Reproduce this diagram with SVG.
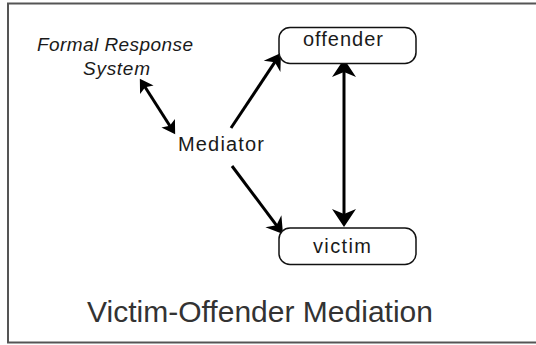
<svg xmlns="http://www.w3.org/2000/svg" width="536" height="345" viewBox="0 0 536 345">
<style>
  .lbl { font-family: "Liberation Sans", Arial, sans-serif; fill: #1a1a1a; }
  .box { fill: #ffffff; stroke: #111111; stroke-width: 1.5; }
  .conn { stroke: #000000; stroke-width: 3; fill: none; }
</style>
<defs>
  <marker id="big" markerUnits="userSpaceOnUse" markerWidth="40" markerHeight="40" viewBox="-20 -20 40 40" refX="0" refY="0" orient="auto-start-reverse">
    <path d="M10,0 L-8,-12 L-3,0 L-8,12 Z" fill="#000"/>
  </marker>
  <marker id="mid" markerUnits="userSpaceOnUse" markerWidth="40" markerHeight="40" viewBox="-20 -20 40 40" refX="0" refY="0" orient="auto-start-reverse">
    <path d="M8,0 L-8,-10 L-3,0 L-8,10 Z" fill="#000"/>
  </marker>
  <marker id="small" markerUnits="userSpaceOnUse" markerWidth="30" markerHeight="30" viewBox="-15 -15 30 30" refX="0" refY="0" orient="auto-start-reverse">
    <path d="M7,0 L-6,-8 L-3,0 L-6,8 Z" fill="#000"/>
  </marker>
</defs>
<rect x="8" y="3.5" width="540" height="339" fill="#ffffff" stroke="#555555" stroke-width="2"/>

<g id="connectors">
  <line class="conn" x1="344" y1="69" x2="344" y2="217" marker-start="url(#big)" marker-end="url(#big)"/>
  <line class="conn" x1="231" y1="128" x2="276.5" y2="59.7" marker-end="url(#mid)"/>
  <line class="conn" x1="232" y1="166" x2="278.2" y2="227.6" marker-end="url(#mid)"/>
  <line class="conn" x1="143.6" y1="84.7" x2="171.4" y2="128.3" marker-start="url(#small)" marker-end="url(#small)"/>
</g>

<g id="formal">
  <text class="lbl" x="37" y="51" font-size="19" font-style="italic" textLength="156">Formal Response</text>
  <text class="lbl" x="83" y="75" font-size="19" font-style="italic" textLength="67">System</text>
</g>

<g id="mediator">
  <text class="lbl" x="178" y="151" font-size="20" textLength="86">Mediator</text>
</g>

<g id="offender">
  <rect class="box" x="279" y="27.5" width="137" height="36" rx="11" ry="11"/>
  <text class="lbl" x="303" y="45.5" font-size="20" textLength="80">offender</text>
</g>

<g id="victim">
  <rect class="box" x="279" y="228" width="137" height="36.5" rx="11" ry="11"/>
  <text class="lbl" x="313" y="252.5" font-size="20" textLength="58">victim</text>
</g>

<g id="title">
  <text x="87" y="322" font-family="Liberation Sans, Arial, sans-serif" font-size="30" fill="#333333" textLength="346">Victim-Offender Mediation</text>
</g>
</svg>
